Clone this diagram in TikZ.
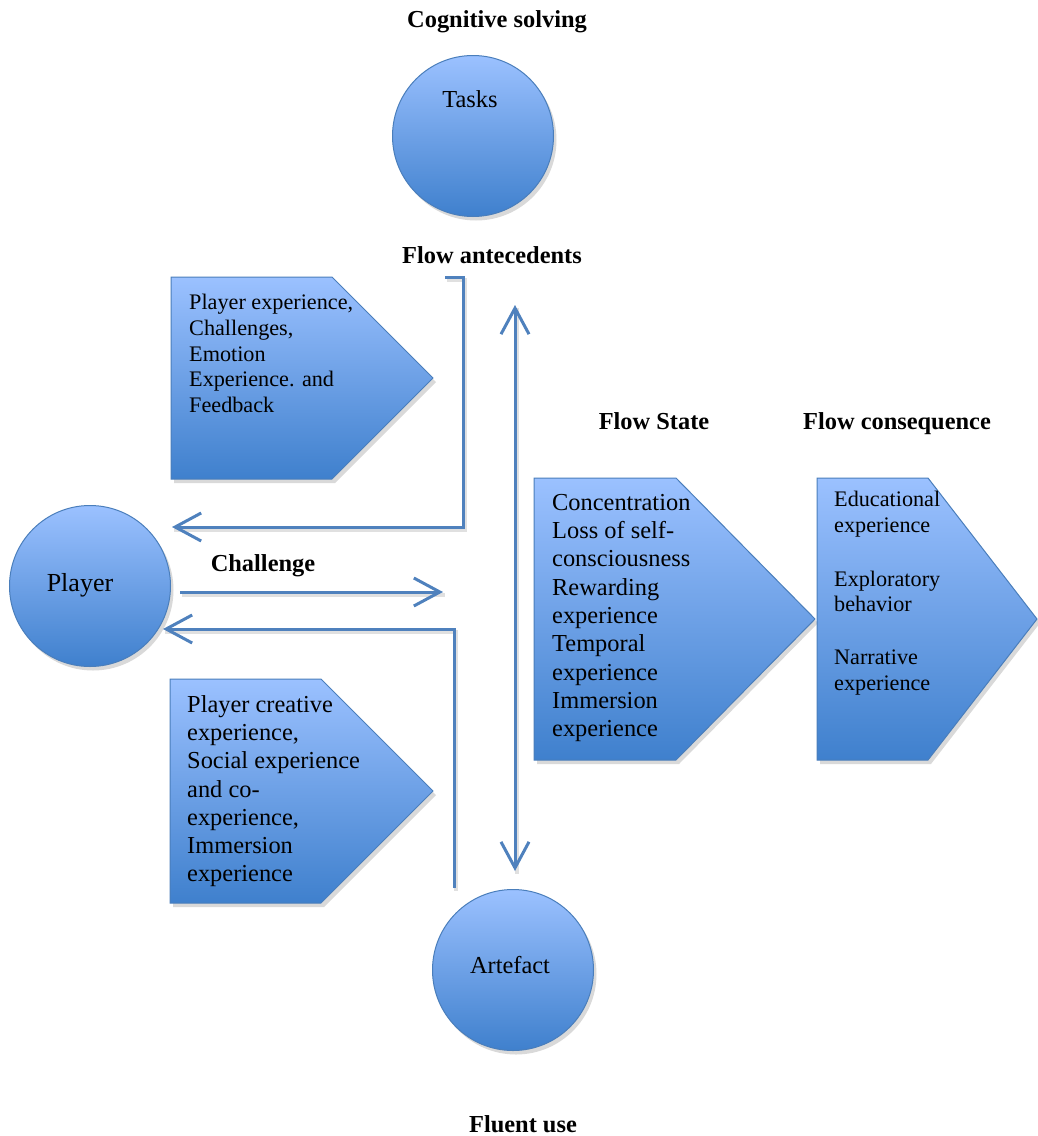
\documentclass[tikz,border=0pt]{standalone}
\usepackage{fontspec}
\setmainfont{Liberation Serif}
\usetikzlibrary{arrows.meta,shadows}
\definecolor{topc}{RGB}{155,193,255}
\definecolor{botc}{RGB}{63,128,205}
\definecolor{bordc}{RGB}{74,126,187}
\definecolor{linec}{RGB}{79,129,189}
\tikzset{
  shapefill/.style={top color=topc, bottom color=botc, draw=bordc, line width=1pt,
    drop shadow={opacity=0.25, shadow xshift=3pt, shadow yshift=-4pt, fill=black!60}},
  ball/.style={circle, shapefill, minimum size=161pt, inner sep=0pt},
  bodytxt/.style={font=\fontsize{24.4}{28.3}\selectfont, inner sep=0pt, align=left},
  smalltxt/.style={font=\fontsize{22.2}{25.7}\selectfont, inner sep=0pt, align=left},
  headtxt/.style={font=\fontsize{24.4}{28.3}\selectfont\bfseries, inner sep=0pt, anchor=base},
  flowline/.style={draw=linec, line width=3pt, line join=miter},
  barb/.style={-{Straight Barb[length=26pt,width=28pt,line width=3pt]}},
  linesh/.style={draw=black, opacity=0.12, line width=4pt, transform canvas={shift={(2pt,-3pt)}}}
}
\begin{document}
\begin{tikzpicture}[x=1pt,y=-1pt]
\useasboundingbox (0,0) rectangle (1038,1136);

% pentagon shapes
\path[shapefill] (171,277) -- (332,277) -- (433,378) -- (332,479) -- (171,479) -- cycle;
\path[shapefill] (170,679) -- (321,679) -- (433,791) -- (321,903) -- (170,903) -- cycle;
\path[shapefill] (534,478) -- (676,478) -- (815,619) -- (676,760) -- (534,760) -- cycle;
\path[shapefill] (817,478) -- (928,478) -- (1037,619) -- (928,760) -- (817,760) -- cycle;

% circles
\node[ball] (tasks) at (473,136) {};
\node[ball] (player) at (90,586) {};
\node[ball] (artefact) at (513,970) {};

% circle texts
\node[bodytxt, anchor=base] (taskstxt) at (470,107) {Tasks};
\node[font=\fontsize{26}{30}\selectfont, inner sep=0pt, anchor=base] (playertxt) at (80,591) {Player};
\node[bodytxt, anchor=base] (artefacttxt) at (510,973) {Artefact};

% pentagon texts
\node[smalltxt, anchor=north west] (antetxt) at (189,294)
  {Player experience,\\Challenges,\\Emotion\\Experience. and\\Feedback};
\node[bodytxt, anchor=north west] (creattxt) at (187,695)
  {Player creative\\experience,\\Social experience\\and co-\\experience,\\Immersion\\experience};
\node[bodytxt, anchor=north west] (statetxt) at (552,494)
  {Concentration\\Loss of self-\\consciousness\\Rewarding\\experience\\Temporal\\experience\\Immersion\\experience};
\node[smalltxt, anchor=north west] (consqtxt) at (834,491)
  {Educational\\experience\\[28pt]Exploratory\\behavior\\[27pt]Narrative\\experience};

% headings
\node[headtxt] (hcog) at (497,27) {Cognitive solving};
\node[headtxt] (hante) at (492,263) {Flow antecedents};
\node[headtxt] (hstate) at (654,429) {Flow State};
\node[headtxt] (hconsq) at (897,429) {Flow consequence};
\node[headtxt] (hchal) at (263,571) {Challenge};
\node[headtxt] (hfluent) at (523,1132) {Fluent use};

% connector end points
\coordinate (a1) at (445,277);
\coordinate (a2) at (463,277);
\coordinate (a3) at (463,527);
\coordinate (a4) at (172,527);
\coordinate (c1) at (180,592);
\coordinate (c2) at (443,592);
\coordinate (b1) at (454,888);
\coordinate (b2) at (454,629);
\coordinate (b3) at (163,629);
\coordinate (v1) at (515,305);
\coordinate (v2) at (515,871);

% line shadows
\draw[linesh] (a1) -- (a2) -- (a3) -- (a4);
\draw[linesh] (c1) -- (c2);
\draw[linesh] (b1) -- (b2) -- (b3);
\draw[linesh] (v1) -- (v2);

% connectors
\draw[flowline, barb] (a1) -- (a2) -- (a3) -- (a4);
\draw[flowline, barb] (c1) -- (c2);
\draw[flowline, barb] (b1) -- (b2) -- (b3);
\draw[flowline, {Straight Barb[length=26pt,width=28pt,line width=3pt]}-{Straight Barb[length=26pt,width=28pt,line width=3pt]}] (v1) -- (v2);
\end{tikzpicture}
\end{document}
